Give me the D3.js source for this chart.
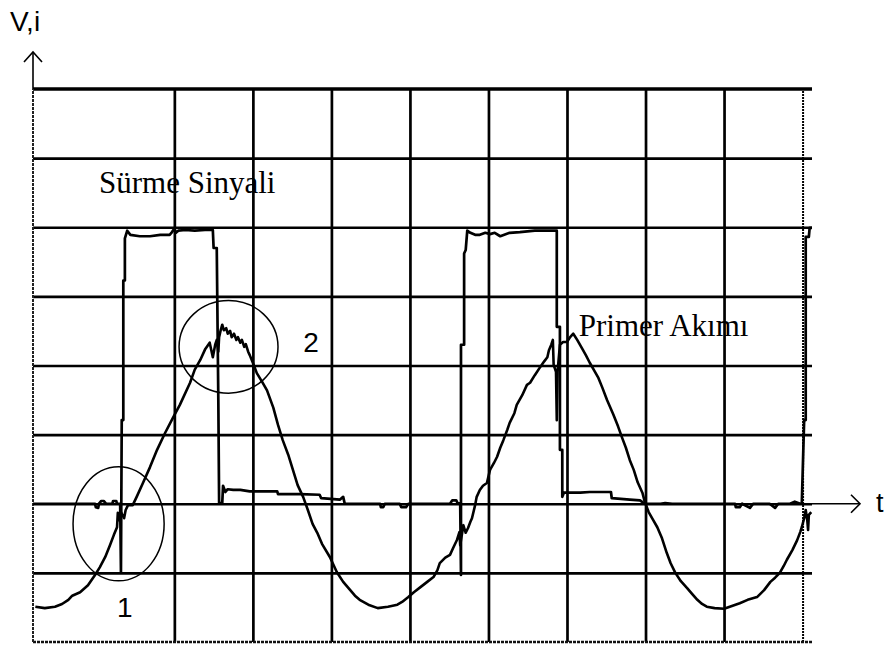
<!DOCTYPE html>
<html>
<head>
<meta charset="utf-8">
<script src="https://cdn.jsdelivr.net/npm/d3@7"></script>
<style>
  body { margin: 0; background: #fff; }
  svg { display: block; }
</style>
</head>
<body>
<svg id="chart" width="893" height="648"></svg>
<script>
// Horizontal axis: time in screen divisions; vertical axis: level in divisions (0 = zero line)
const timeGrid = [1, 2, 3, 4, 5, 6, 7, 8, 9];
const levelGrid = [-1, 0, 1, 2, 3, 4, 5];

// Gate drive signal ("Sürme Sinyali"), [time, level]
const gateSignal = [
  [-0.80,0],[-0.46,0],[-0.01,0],[0.00,-0.05],[0.03,-0.06],[0.04,0],[0.07,0.04],[0.10,0.04],
  [0.13,0],[0.21,0],[0.22,0.04],[0.26,0.04],[0.27,0],[0.31,0],[0.32,-0.99],[0.33,1.21],
  [0.35,1.21],[0.35,3.23],[0.37,3.23],[0.37,3.84],[0.40,3.95],[0.44,3.89],[0.56,3.87],
  [0.69,3.87],[0.82,3.89],[0.94,3.89],[0.97,3.93],[1.00,3.98],[1.02,3.92],[1.05,3.95],
  [1.14,3.96],[1.26,3.95],[1.39,3.96],[1.49,3.96],[1.50,3.70],[1.54,3.70],[1.56,1.50],
  [1.57,0.01],[1.61,0.01],[1.62,0.26],[1.65,0.17],[1.68,0.21],[1.75,0.20],[1.84,0.20],
  [1.96,0.18],[2.31,0.18],[2.32,0.14],[2.60,0.14],[2.85,0.13],[2.87,0.08],[3.11,0.06],
  [3.15,0.10],[3.17,0],[3.62,0],[3.63,-0.05],[3.66,-0.05],[3.68,0],[3.87,0],[3.89,-0.05],
  [3.95,-0.05],[3.98,0],[4.51,0],[4.54,0.05],[4.59,0.05],[4.61,0],[4.64,0.01],[4.65,-1.03],
  [4.65,2.30],[4.69,2.30],[4.69,3.62],[4.71,3.67],[4.73,3.95],[4.77,3.92],[4.83,3.89],
  [4.89,3.89],[4.96,3.92],[5.02,3.90],[5.08,3.92],[5.15,3.87],[5.27,3.92],[5.40,3.93],
  [5.59,3.95],[5.87,3.95],[5.87,2.56],[5.91,2.56],[5.91,0.78],[5.94,0.78],[5.94,0.10],
  [5.96,0.16],[6.17,0.16],[6.29,0.17],[6.56,0.17],[6.57,0.08],[6.80,0.06],[6.93,0.05],
  [6.99,0],[7.19,0],[7.25,0.01],[7.34,0],[7.69,0],[8.14,0],[8.15,-0.05],[8.20,-0.05],
  [8.23,0],[8.33,-0.06],[8.37,0],[8.58,0],[8.65,-0.06],[8.69,0],[8.84,0],[8.90,0.03],
  [8.97,0],[8.99,0],[9.02,1.21],[9.04,1.21],[9.04,3.86],[9.08,3.86],[9.09,3.99],[9.12,3.99]
];

// Primary current ("Primer Akımı"), [time, level]
const primaryCurrent = [
  [-0.77,-1.49],[-0.65,-1.51],[-0.52,-1.49],[-0.43,-1.45],[-0.35,-1.39],[-0.30,-1.33],
  [-0.20,-1.28],[-0.10,-1.18],[-0.01,-1.03],[0.05,-0.92],[0.12,-0.77],[0.18,-0.60],
  [0.23,-0.45],[0.27,-0.34],[0.28,-0.13],[0.30,-0.24],[0.32,-0.12],[0.36,-0.21],
  [0.38,-0.09],[0.41,-0.02],[0.47,-0.02],[0.52,0.10],[0.60,0.30],[0.69,0.53],[0.78,0.78],
  [0.88,1.02],[0.98,1.24],[1.07,1.43],[1.20,1.75],[1.26,1.94],[1.33,2.08],[1.39,2.23],
  [1.45,2.33],[1.49,2.12],[1.52,2.30],[1.54,2.37],[1.56,2.20],[1.57,2.41],[1.59,2.51],
  [1.61,2.59],[1.63,2.51],[1.66,2.54],[1.68,2.46],[1.71,2.50],[1.73,2.41],[1.76,2.46],
  [1.79,2.37],[1.81,2.41],[1.84,2.33],[1.86,2.37],[1.89,2.27],[1.91,2.31],[1.94,2.20],
  [1.96,2.15],[2.01,2.01],[2.05,1.89],[2.12,1.76],[2.18,1.64],[2.26,1.39],[2.32,1.14],
  [2.38,0.92],[2.45,0.71],[2.51,0.49],[2.57,0.27],[2.64,0.10],[2.70,-0.09],[2.76,-0.29],
  [2.82,-0.42],[2.88,-0.58],[2.98,-0.77],[3.07,-0.99],[3.15,-1.13],[3.24,-1.25],
  [3.30,-1.33],[3.36,-1.39],[3.47,-1.46],[3.59,-1.51],[3.72,-1.49],[3.84,-1.46],
  [3.90,-1.42],[3.98,-1.35],[4.05,-1.28],[4.13,-1.21],[4.22,-1.13],[4.30,-1.06],
  [4.35,-0.96],[4.38,-0.86],[4.45,-0.78],[4.51,-0.74],[4.55,-0.64],[4.60,-0.52],
  [4.63,-0.41],[4.64,-0.60],[4.68,-0.31],[4.71,-0.42],[4.74,-0.35],[4.77,-0.26],
  [4.79,-0.21],[4.83,-0.02],[4.85,0.10],[4.89,0.20],[4.93,0.26],[4.98,0.30],[5.02,0.49],
  [5.07,0.59],[5.11,0.68],[5.15,0.81],[5.19,0.92],[5.24,1.07],[5.27,1.17],[5.33,1.31],
  [5.36,1.43],[5.43,1.57],[5.49,1.72],[5.53,1.75],[5.59,1.86],[5.66,1.98],[5.71,2.06],
  [5.75,2.12],[5.77,2.22],[5.80,2.30],[5.82,2.37],[5.83,2.01],[5.86,1.91],[5.87,1.21],
  [5.88,1.91],[5.91,2.30],[5.95,2.34],[6.00,2.34],[6.04,2.41],[6.08,2.46],[6.13,2.37],
  [6.19,2.25],[6.24,2.15],[6.29,2.04],[6.34,1.94],[6.40,1.82],[6.45,1.68],[6.51,1.50],
  [6.59,1.29],[6.65,1.12],[6.70,0.96],[6.75,0.81],[6.80,0.63],[6.85,0.49],[6.90,0.31],
  [6.96,0.16],[6.99,0.03],[7.04,-0.12],[7.10,-0.24],[7.15,-0.34],[7.21,-0.50],
  [7.27,-0.71],[7.32,-0.86],[7.38,-1.00],[7.45,-1.12],[7.53,-1.22],[7.59,-1.30],
  [7.66,-1.39],[7.72,-1.45],[7.78,-1.49],[7.88,-1.51],[8.00,-1.52],[8.10,-1.48],
  [8.20,-1.44],[8.30,-1.39],[8.42,-1.35],[8.51,-1.25],[8.59,-1.13],[8.65,-1.07],
  [8.71,-1.00],[8.76,-0.90],[8.80,-0.81],[8.87,-0.67],[8.93,-0.53],[8.97,-0.41],
  [8.99,-0.34],[9.02,-0.21],[9.04,-0.09],[9.06,-0.24],[9.07,-0.38],[9.08,-0.16],[9.11,-0.12]
];

// Highlighted regions: centre [time, level], radii in divisions, and their numbers
const markerCircles = [
  { id: "1", t: 0.29, v: -0.29, rt: 0.58, rv: 0.825, labelT: 0.37, labelV: -1.64 },
  { id: "2", t: 1.69, v: 2.27, rt: 0.63, rv: 0.67, labelT: 2.74, labelV: 2.20 }
];

// Trace names
const traceLabels = [
  { text: "Sürme Sinyali", t: 0.04, v: 4.50 },
  { text: "Primer Akımı", t: 6.15, v: 2.43 }
];

const svg = d3.select("#chart");

const x = d3.scaleLinear().domain([-0.8, 9.12]).range([33, 812]);
const y = d3.scaleLinear().domain([-2, 6]).range([642, 89]);

const plotW = x(9.12) - x(-0.8);
const plotH = y(-2) - y(6);

// Vertical graticule lines
const vGrid = svg.append("g")
  .attr("transform", `translate(0,${y(-2)})`)
  .call(d3.axisBottom(x).tickValues(timeGrid).tickSize(-plotH).tickFormat(""));
vGrid.select(".domain").remove();
vGrid.selectAll(".tick line")
  .attr("stroke", "#000")
  .attr("stroke-width", d => (d === 9 ? 2 : 2.7))
  .attr("stroke-dasharray", d => (d === 9 ? "2,1" : null));

// Horizontal graticule lines
const hGrid = svg.append("g")
  .attr("transform", `translate(${x(-0.8)},0)`)
  .call(d3.axisLeft(y).tickValues(levelGrid).tickSize(-plotW).tickFormat(""));
hGrid.select(".domain").remove();
hGrid.selectAll(".tick line")
  .attr("stroke", "#000")
  .attr("stroke-width", 2.7);

// Top edge of the screen
svg.append("line")
  .attr("x1", x(-0.8)).attr("x2", x(9.12))
  .attr("y1", y(6)).attr("y2", y(6))
  .attr("stroke", "#000").attr("stroke-width", 3.4);

// Bottom edge of the screen
svg.append("line")
  .attr("x1", x(-0.8)).attr("x2", x(9.12))
  .attr("y1", y(-2)).attr("y2", y(-2))
  .attr("stroke", "#111").attr("stroke-width", 2.4).attr("stroke-dasharray", "3,1");

// Vertical axis (V,i) with arrow
const yAxisTop = y(6) - 37;
svg.append("line")
  .attr("x1", x(-0.8)).attr("x2", x(-0.8))
  .attr("y1", y(-2)).attr("y2", y(6))
  .attr("stroke", "#222").attr("stroke-width", 2).attr("stroke-dasharray", "3,1");
svg.append("line")
  .attr("x1", x(-0.8)).attr("x2", x(-0.8))
  .attr("y1", y(6)).attr("y2", yAxisTop)
  .attr("stroke", "#000").attr("stroke-width", 1.6);
svg.append("path")
  .attr("d", `M${x(-0.8) - 9},${yAxisTop + 10} L${x(-0.8)},${yAxisTop} L${x(-0.8) + 9},${yAxisTop + 10}`)
  .attr("fill", "none").attr("stroke", "#000").attr("stroke-width", 1.6);
svg.append("text")
  .attr("x", 10).attr("y", 31)
  .attr("font-family", "Arial, 'Liberation Sans', sans-serif")
  .attr("font-size", 28)
  .text("V,i");

// Horizontal axis (t) with arrow
const tAxisEnd = x(9.12) + 48;
svg.append("line")
  .attr("x1", x(9.12)).attr("x2", tAxisEnd)
  .attr("y1", y(0)).attr("y2", y(0))
  .attr("stroke", "#000").attr("stroke-width", 1.6);
svg.append("path")
  .attr("d", `M${tAxisEnd - 9},${y(0) - 9} L${tAxisEnd},${y(0)} L${tAxisEnd - 9},${y(0) + 9}`)
  .attr("fill", "none").attr("stroke", "#000").attr("stroke-width", 1.6);
svg.append("text")
  .attr("x", 876).attr("y", y(0) + 8)
  .attr("font-family", "Arial, 'Liberation Sans', sans-serif")
  .attr("font-size", 27)
  .text("t");

// Traces
const line = d3.line().x(d => x(d[0])).y(d => y(d[1]));

svg.append("path")
  .datum(gateSignal)
  .attr("d", line)
  .attr("fill", "none")
  .attr("stroke", "#000")
  .attr("stroke-width", 2.7)
  .attr("stroke-linejoin", "round");

svg.append("path")
  .datum(primaryCurrent)
  .attr("d", line)
  .attr("fill", "none")
  .attr("stroke", "#000")
  .attr("stroke-width", 2.6)
  .attr("stroke-linejoin", "round");

// Highlight ellipses and their numbers
svg.selectAll(".marker")
  .data(markerCircles)
  .join("ellipse")
  .attr("class", "marker")
  .attr("cx", d => x(d.t))
  .attr("cy", d => y(d.v))
  .attr("rx", d => x(d.t + d.rt) - x(d.t))
  .attr("ry", d => y(d.v - d.rv) - y(d.v))
  .attr("fill", "none")
  .attr("stroke", "#000")
  .attr("stroke-width", 1.5);

svg.selectAll(".marker-label")
  .data(markerCircles)
  .join("text")
  .attr("class", "marker-label")
  .attr("x", d => x(d.labelT))
  .attr("y", d => y(d.labelV))
  .attr("text-anchor", "middle")
  .attr("font-family", "Arial, 'Liberation Sans', sans-serif")
  .attr("font-size", 28)
  .text(d => d.id);

// Trace names
svg.selectAll(".trace-label")
  .data(traceLabels)
  .join("text")
  .attr("class", "trace-label")
  .attr("x", d => x(d.t))
  .attr("y", d => y(d.v))
  .attr("font-family", "'Times New Roman', 'Liberation Serif', serif")
  .attr("font-size", 31)
  .text(d => d.text);
</script>
</body>
</html>
